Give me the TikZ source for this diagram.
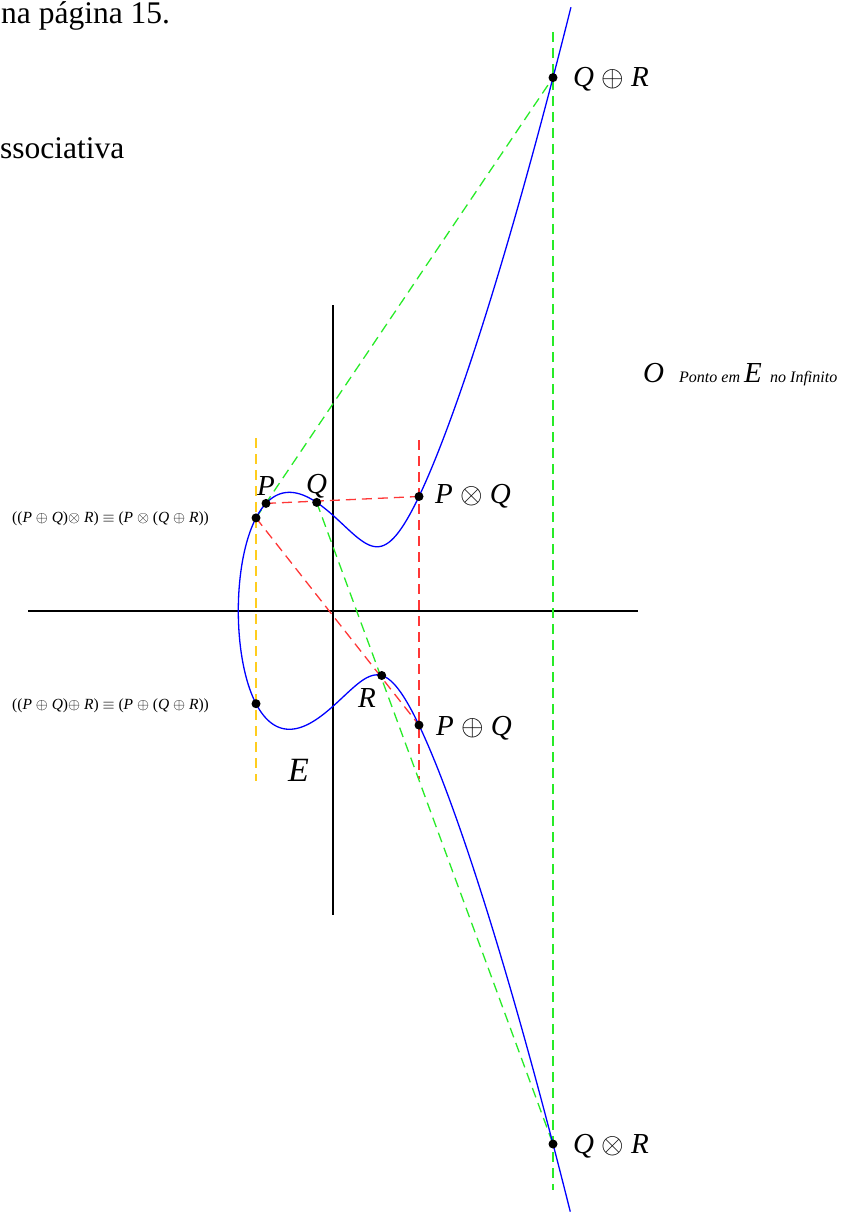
\documentclass[tikz,border=0pt]{standalone}
\usepackage{fix-cm}
\usepackage{fontspec}
\setmainfont{Liberation Serif}
\definecolor{cblue}{RGB}{0,0,255}
\definecolor{cgreen}{RGB}{40,235,40}
\definecolor{cred}{RGB}{255,55,55}
\definecolor{cyellow}{RGB}{255,205,30}
\newcommand{\opsp}[1]{\hspace{0.25em}$#1$\hspace{0.25em}}
\newcommand{\iP}{\textit{P}}
\newcommand{\iQ}{\textit{Q}}
\newcommand{\iR}{\textit{R}}
\begin{document}
\begin{tikzpicture}[x=1pt,y=-1pt,
  curve/.style={draw=cblue,line width=1.3pt},
  axisline/.style={draw=black,line width=2pt},
  dashline/.style={line width=1.3pt,dash pattern=on 10pt off 6pt},
  gdash/.style={dashline,draw=cgreen},
  rdash/.style={dashline,draw=cred},
  ydash/.style={dashline,draw=cyellow},
  dot/.style={circle,fill=black,inner sep=0pt,minimum size=9pt},
  lbl/.style={inner sep=0pt,anchor=base west,font=\fontsize{29}{32}\selectfont\itshape},
  biglbl/.style={inner sep=0pt,anchor=base west,font=\fontsize{34}{38}\selectfont\itshape},
  smalllbl/.style={inner sep=0pt,anchor=base west,font=\fontsize{15.5}{18}\selectfont},
  smallit/.style={inner sep=0pt,anchor=base west,font=\fontsize{16}{18}\selectfont\itshape},
  toptext/.style={inner sep=0pt,anchor=base west,font=\fontsize{31.5}{34}\selectfont}
]
\useasboundingbox (0,0) rectangle (848,1214);

% axes
\coordinate (xL) at (28,610.8);
\coordinate (xR) at (638,610.8);
\coordinate (yT) at (333,305);
\coordinate (yB) at (333,915);
\draw[axisline] (xL) -- (xR);
\draw[axisline] (yT) -- (yB);

% points on the curve
\coordinate (A) at (256,517.9);
\coordinate (B) at (256,703.7);
\coordinate (P) at (266,503.4);
\coordinate (Q) at (316.7,502.4);
\coordinate (PoQ) at (419,496.5);
\coordinate (PpQ) at (419,725.1);
\coordinate (R) at (381.7,675.5);
\coordinate (QpR) at (553,77.6);
\coordinate (QoR) at (553,1144.0);

% free ends of vertical dashed lines
\coordinate (yelT) at (256,438);
\coordinate (yelB) at (256,781);
\coordinate (redT) at (419,440);
\coordinate (redB) at (419,779);
\coordinate (grnT) at (553,32);
\coordinate (grnB) at (553,1190);

% dashed construction lines
\draw[ydash] (yelT) -- (yelB);
\draw[rdash] (redT) -- (redB);
\draw[gdash] (grnT) -- (grnB);
\draw[rdash] (P) -- (PoQ);
\draw[rdash] (A) -- (PpQ);
\draw[gdash] (A) -- (QpR);
\draw[gdash] (Q) -- (QoR);

% elliptic curve
\draw[curve] plot[variable=\t,domain=-18.22:18.24,samples=361]
  ({238.3+\t*\t},{610.8-1.7161*\t*sqrt(((\t*\t-142.4)/10)^2+9.9)});

% dots
\node[dot] (dA) at (A) {};
\node[dot] (dB) at (B) {};
\node[dot] (dP) at (P) {};
\node[dot] (dQ) at (Q) {};
\node[dot] (dPoQ) at (PoQ) {};
\node[dot] (dPpQ) at (PpQ) {};
\node[dot] (dR) at (R) {};
\node[dot] (dQpR) at (QpR) {};
\node[dot] (dQoR) at (QoR) {};

% labels
\node[toptext] (t1) at (1,23.5) {na página 15.};
\node[toptext] (t2) at (0,159) {ssociativa};
\node[lbl] (lP) at (257,495) {P};
\node[lbl] (lQ) at (306,493.5) {Q};
\node[lbl] (lPoQ) at (435,503) {P\opsp{\otimes}Q};
\node[lbl] (lPpQ) at (436,735) {P\opsp{\oplus}Q};
\node[lbl] (lR) at (358,707) {R};
\node[lbl] (lQpR) at (573,87) {Q\opsp{\oplus}R};
\node[lbl] (lQoR) at (573,1153) {Q\opsp{\otimes}R};
\node[biglbl] (lE) at (288,781) {E};
\node[lbl] (lO) at (643,382.5) {O};
\node[smallit] (lPonto) at (679,382.5) {Ponto em};
\node[lbl] (lE2) at (744,382.5) {E};
\node[smallit] (lInf) at (770,382.5) {no Infinito};
\node[smalllbl] (lA) at (12,522.5) {((\iP\opsp{\oplus}\iQ)$\otimes$\hspace{0.25em}\iR)\opsp{\equiv}(\iP\opsp{\otimes}(\iQ\opsp{\oplus}\iR))};
\node[smalllbl] (lB) at (12,709.7) {((\iP\opsp{\oplus}\iQ)$\oplus$\hspace{0.25em}\iR)\opsp{\equiv}(\iP\opsp{\oplus}(\iQ\opsp{\oplus}\iR))};
\end{tikzpicture}
\end{document}
